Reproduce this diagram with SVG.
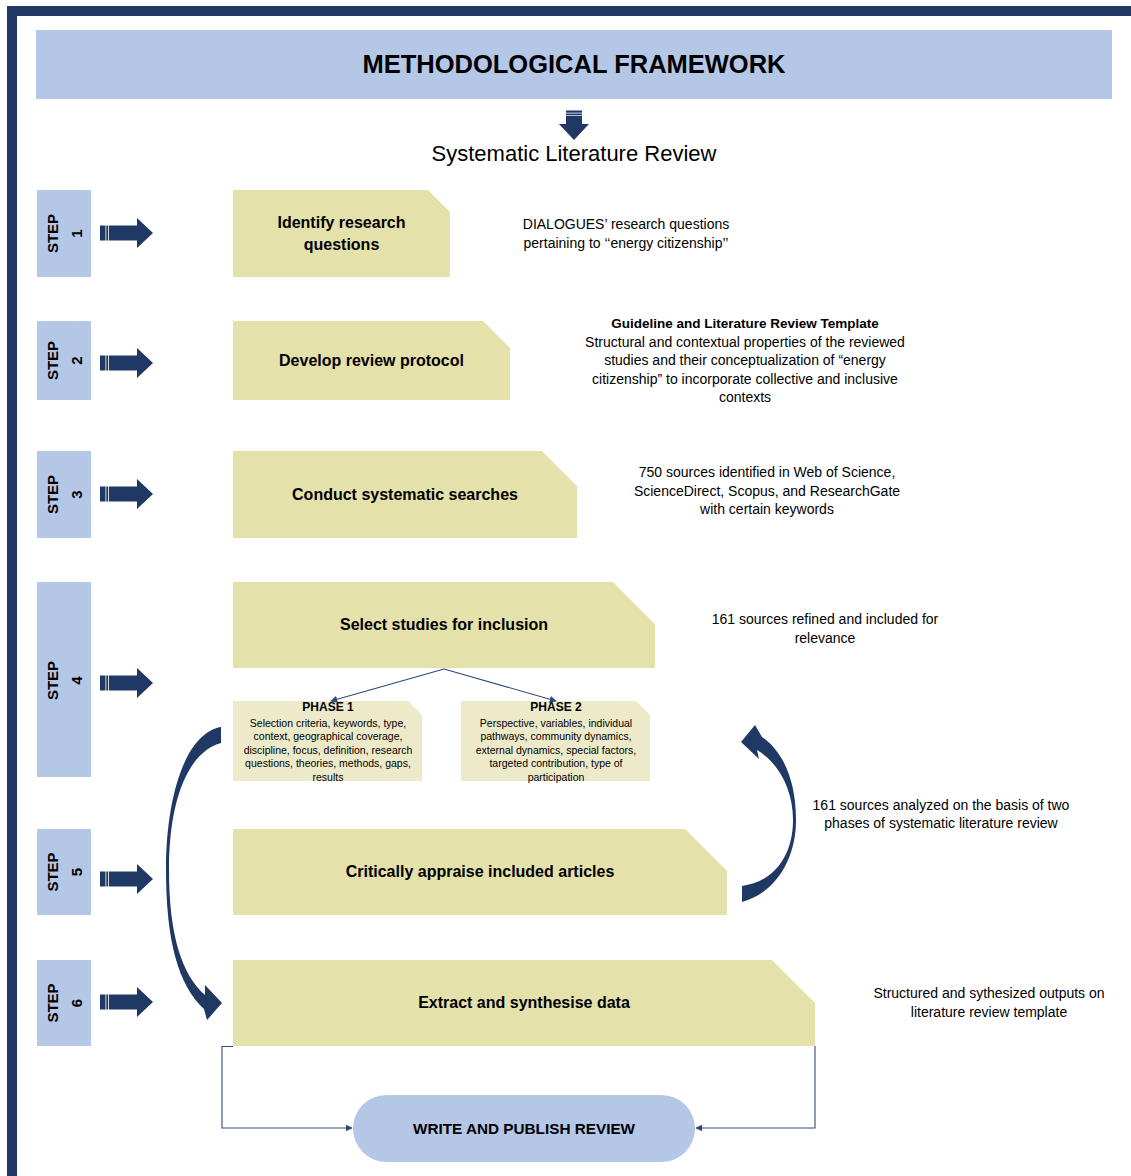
<svg xmlns="http://www.w3.org/2000/svg" width="1131" height="1176" viewBox="0 0 1131 1176">
<style>
  .blue{fill:#B4C7E7}
  .navy{fill:#203864}
  .yel{fill:#E4E1AB}
  .pha{fill:#EDEACA}
  .t{font-family:"Liberation Sans",Arial,sans-serif;fill:#000}
  .b{font-weight:bold}
  .box{font-size:16px;font-weight:bold;text-anchor:middle}
  .note{font-size:14px;text-anchor:middle}
  .ph{font-size:10.5px;text-anchor:middle}
  .step{font-size:15px;font-weight:bold;text-anchor:middle}
  .ln{fill:none;stroke:#2F4A7A;stroke-width:1.1}
</style>
<defs>
  <marker id="ah" viewBox="0 0 10 10" refX="9" refY="5" markerWidth="7" markerHeight="7" markerUnits="userSpaceOnUse" orient="auto">
    <path d="M0,0 L10,5 L0,10 Z" fill="#2F4A7A"/>
  </marker>
  <g id="sarrow">
    <rect x="100" y="-7.5" width="5.5" height="15"/>
    <rect x="106.3" y="-7.5" width="1.8" height="15"/>
    <path d="M108.9,-7.5 H137 V-15 L153,0 L137,15 V7.5 H108.9 Z"/>
  </g>
</defs>

<rect x="0" y="0" width="1131" height="1176" fill="#FFFFFF"/>
<g id="frame" class="navy">
  <rect x="7" y="6" width="1124" height="10"/>
  <rect x="7" y="6" width="10" height="1170"/>
</g>

<g id="title">
  <rect class="blue" x="36" y="30" width="1076" height="69"/>
  <text class="t b" x="574" y="73" font-size="25.5" text-anchor="middle">METHODOLOGICAL FRAMEWORK</text>
</g>

<g id="down-arrow" class="navy">
  <rect x="566" y="110.5" width="16" height="2.2"/>
  <rect x="566" y="113.5" width="16" height="1.8"/>
  <path d="M566,116.1 H582 V124 H589 L574,140 L559,124 H566 Z"/>
</g>
<text id="subtitle" class="t" x="574" y="161" font-size="22" text-anchor="middle">Systematic Literature Review</text>

<!-- Step labels -->
<g id="step1">
  <rect class="blue" x="37" y="190" width="54" height="87"/>
  <text class="t step" transform="translate(58,233.5) rotate(-90)">STEP</text>
  <text class="t step" transform="translate(81.5,233.5) rotate(-90)">1</text>
  <use href="#sarrow" class="navy" transform="translate(0,233)"/>
</g>
<g id="step2">
  <rect class="blue" x="37" y="321" width="54" height="79"/>
  <text class="t step" transform="translate(58,360.5) rotate(-90)">STEP</text>
  <text class="t step" transform="translate(81.5,360.5) rotate(-90)">2</text>
  <use href="#sarrow" class="navy" transform="translate(0,363)"/>
</g>
<g id="step3">
  <rect class="blue" x="37" y="451" width="54" height="87"/>
  <text class="t step" transform="translate(58,494.5) rotate(-90)">STEP</text>
  <text class="t step" transform="translate(81.5,494.5) rotate(-90)">3</text>
  <use href="#sarrow" class="navy" transform="translate(0,494)"/>
</g>
<g id="step4">
  <rect class="blue" x="37" y="582" width="54" height="195"/>
  <text class="t step" transform="translate(58,680.5) rotate(-90)">STEP</text>
  <text class="t step" transform="translate(81.5,680.5) rotate(-90)">4</text>
  <use href="#sarrow" class="navy" transform="translate(0,683)"/>
</g>
<g id="step5">
  <rect class="blue" x="37" y="829" width="54" height="86"/>
  <text class="t step" transform="translate(58,872) rotate(-90)">STEP</text>
  <text class="t step" transform="translate(81.5,872) rotate(-90)">5</text>
  <use href="#sarrow" class="navy" transform="translate(0,879)"/>
</g>
<g id="step6">
  <rect class="blue" x="37" y="960" width="54" height="86"/>
  <text class="t step" transform="translate(58,1003) rotate(-90)">STEP</text>
  <text class="t step" transform="translate(81.5,1003) rotate(-90)">6</text>
  <use href="#sarrow" class="navy" transform="translate(0,1002)"/>
</g>

<!-- Process boxes -->
<g id="box1">
  <path class="yel" d="M233,190 H428 L450,212 V277 H233 Z"/>
  <text class="t box" x="341.5" y="228">Identify research</text>
  <text class="t box" x="341.5" y="250">questions</text>
</g>
<g id="box2">
  <path class="yel" d="M233,321 H483 L510,348 V400 H233 Z"/>
  <text class="t box" x="371.5" y="366">Develop review protocol</text>
</g>
<g id="box3">
  <path class="yel" d="M233,451 H542 L577,486 V538 H233 Z"/>
  <text class="t box" x="405" y="500">Conduct systematic searches</text>
</g>
<g id="box4">
  <path class="yel" d="M233,582 H613 L655,624 V668 H233 Z"/>
  <text class="t box" x="444" y="630">Select studies for inclusion</text>
</g>
<g id="phase1">
  <path class="pha" d="M233,701 H408 L422,715 V781 H233 Z"/>
  <text class="t b" x="328" y="711" font-size="12" text-anchor="middle">PHASE 1</text>
  <text class="t ph" x="328" y="727">Selection criteria, keywords, type,</text>
  <text class="t ph" x="328" y="740">context, geographical coverage,</text>
  <text class="t ph" x="328" y="754">discipline, focus, definition, research</text>
  <text class="t ph" x="328" y="767">questions, theories, methods, gaps,</text>
  <text class="t ph" x="328" y="781">results</text>
</g>
<g id="phase2">
  <path class="pha" d="M461,701 H636 L650,715 V781 H461 Z"/>
  <text class="t b" x="556" y="711" font-size="12" text-anchor="middle">PHASE 2</text>
  <text class="t ph" x="556" y="727">Perspective, variables, individual</text>
  <text class="t ph" x="556" y="740">pathways, community dynamics,</text>
  <text class="t ph" x="556" y="754">external dynamics, special factors,</text>
  <text class="t ph" x="556" y="767">targeted contribution, type of</text>
  <text class="t ph" x="556" y="781">participation</text>
</g>
<g id="box5">
  <path class="yel" d="M233,829 H685 L727,871 V915 H233 Z"/>
  <text class="t box" x="480" y="877">Critically appraise included articles</text>
</g>
<g id="box6">
  <path class="yel" d="M233,960 H772 L815,1003 V1046 H233 Z"/>
  <text class="t box" x="524" y="1008">Extract and synthesise data</text>
</g>
<g id="publish">
  <rect class="blue" x="353" y="1095" width="342" height="67" rx="33.5" ry="33.5"/>
  <text class="t b" x="524" y="1133.5" font-size="15.3" text-anchor="middle">WRITE AND PUBLISH REVIEW</text>
</g>

<!-- Notes -->
<g id="note1">
  <text class="t note" x="626" y="229">DIALOGUES’ research questions</text>
  <text class="t note" x="626" y="248">pertaining to ‘‘energy citizenship’’</text>
</g>
<g id="note2">
  <text class="t b" x="745" y="328" font-size="13.5" text-anchor="middle">Guideline and Literature Review Template</text>
  <text class="t note" x="745" y="347">Structural and contextual properties of the reviewed</text>
  <text class="t note" x="745" y="365">studies and their conceptualization of “energy</text>
  <text class="t note" x="745" y="384">citizenship” to incorporate collective and inclusive</text>
  <text class="t note" x="745" y="402">contexts</text>
</g>
<g id="note3">
  <text class="t note" x="767" y="477">750 sources identified in Web of Science,</text>
  <text class="t note" x="767" y="496">ScienceDirect, Scopus, and ResearchGate</text>
  <text class="t note" x="767" y="514">with certain keywords</text>
</g>
<g id="note4">
  <text class="t note" x="825" y="624">161 sources refined and included for</text>
  <text class="t note" x="825" y="643">relevance</text>
</g>
<g id="note5">
  <text class="t note" x="941" y="810">161 sources analyzed on the basis of two</text>
  <text class="t note" x="941" y="828">phases of systematic literature review</text>
</g>
<g id="note6">
  <text class="t note" x="989" y="998">Structured and sythesized outputs on</text>
  <text class="t note" x="989" y="1017">literature review template</text>
</g>

<!-- Connectors -->
<g id="connectors">
  <line class="ln" x1="444" y1="669" x2="331" y2="701" marker-end="url(#ah)"/>
  <line class="ln" x1="444" y1="669" x2="556" y2="701" marker-end="url(#ah)"/>
  <path class="ln" d="M233,1046.5 H222 V1128 H352" marker-end="url(#ah)"/>
  <path class="ln" d="M815,1046 V1128 H696" marker-end="url(#ah)"/>
  <path class="navy" d="M221,727 C186,733 166,795 166,870 C166,940 178,985 204,1009 L207,1020 L222,1003 L205,985 L205,995 C182,975 169,935 169,870 C169,800 188,752 221,743 Z"/>
  <path class="navy" d="M742,902 C775,893 796,860 796,820 C796,782 784,752 762,737 L755,725 L741,742 L759,759 L757,750 C779,763 793,790 793,820 C793,858 772,882 742,886 Z"/>
</g>
</svg>
